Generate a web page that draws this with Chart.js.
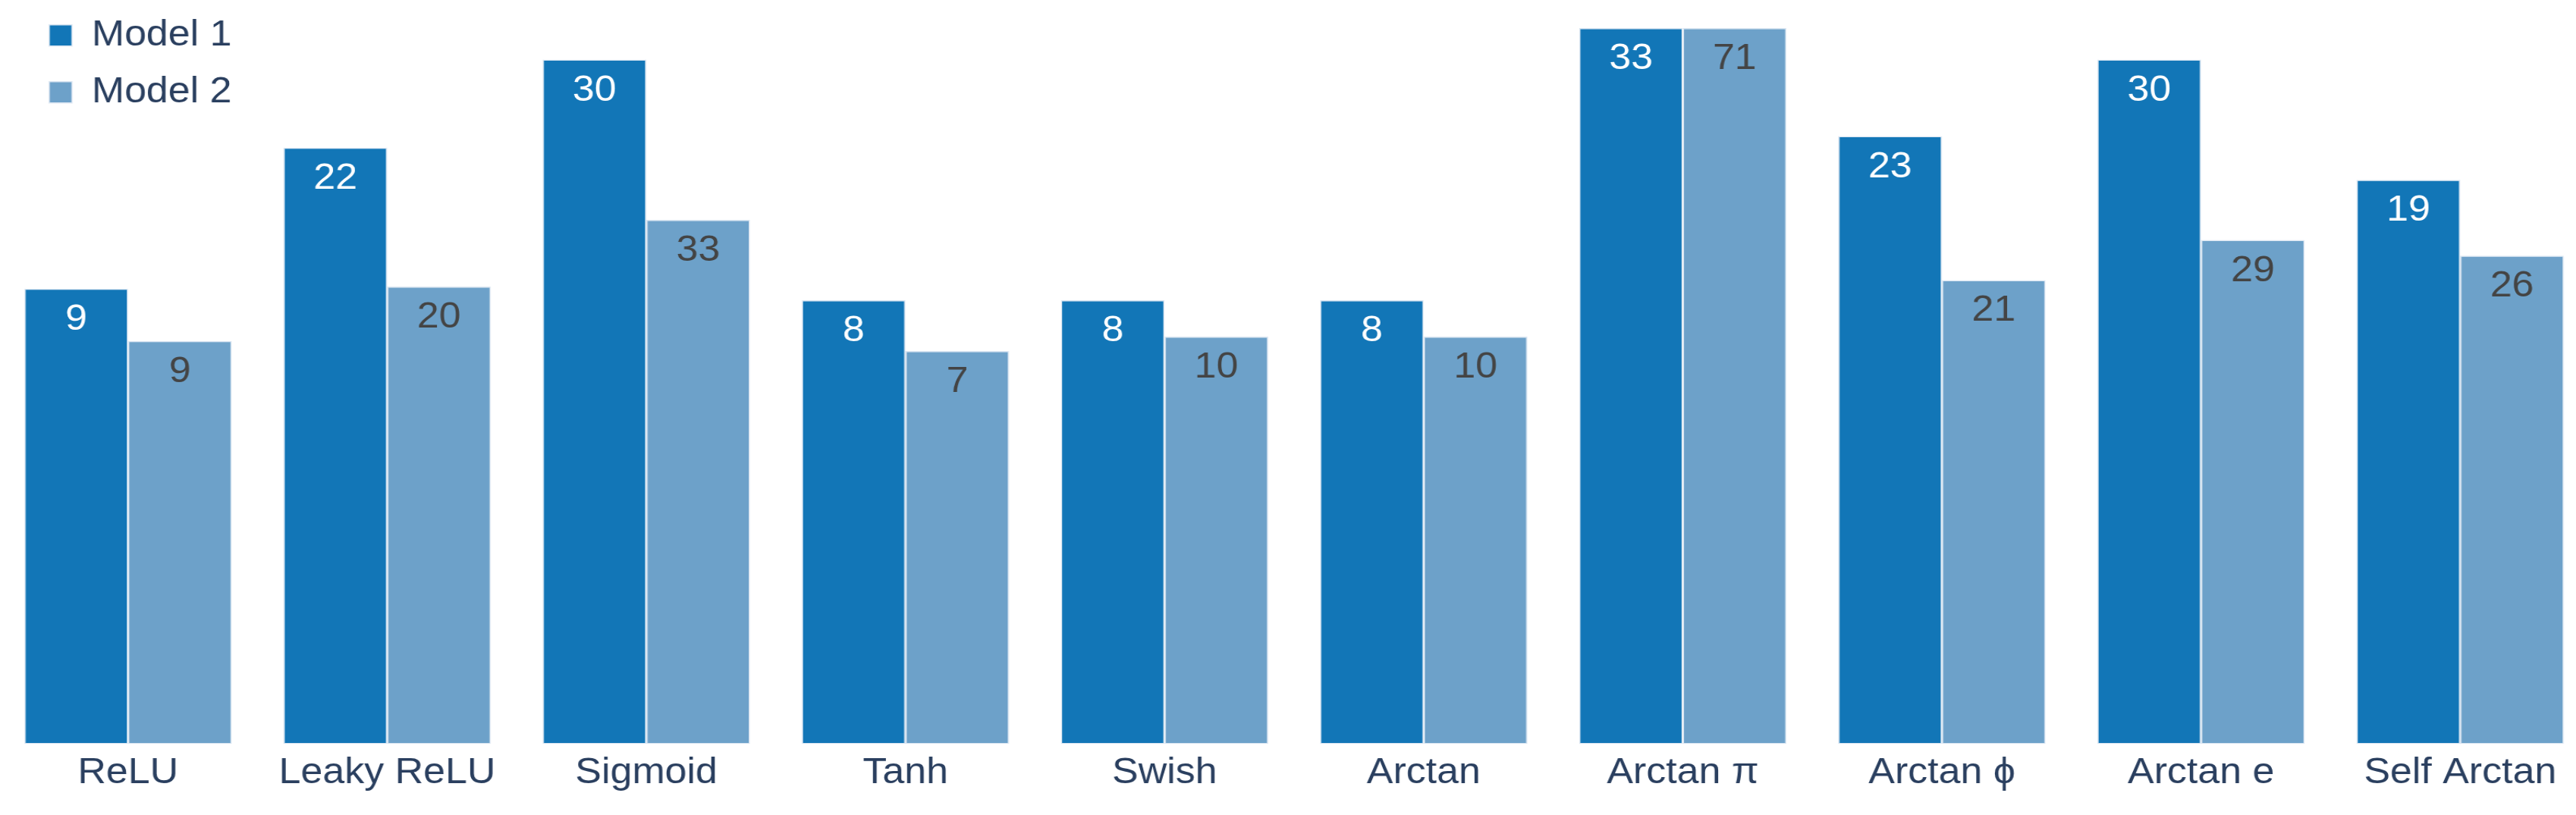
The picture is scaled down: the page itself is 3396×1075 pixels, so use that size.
<!DOCTYPE html>
<html>
<head>
<meta charset="utf-8">
<title>Model 1 vs Model 2</title>
<script src="https://cdn.jsdelivr.net/npm/chart.js@4.4.1/dist/chart.umd.min.js"></script>
<style>
  html, body { margin: 0; padding: 0; background: #fff; overflow: hidden; }
  body { width: 3396px; height: 1075px; position: relative; }
  /* o original parece esticado na horizontal: desenha estreito e estica */
  #wrap { position: absolute; left: -2.5px; top: -4px; width: 3191.6px; height: 1079px;
          transform: scaleX(1.07); transform-origin: 0 0; }
</style>
</head>
<body>
<div id="wrap"><canvas id="grafico"></canvas></div>
<script>
// Dados
const categorias = ["ReLU", "Leaky ReLU", "Sigmoid", "Tanh", "Swish", "Arctan", "Arctan π", "Arctan ϕ", "Arctan e", "Self Arctan"];

// altura relativa das barras (a mais alta = 1)
const alturaModelo1 = [0.636, 0.833, 0.956, 0.620, 0.620, 0.620, 1.000, 0.849, 0.956, 0.788];
const alturaModelo2 = [0.563, 0.639, 0.732, 0.549, 0.569, 0.569, 1.000, 0.648, 0.704, 0.682];

// números escritos dentro das barras
const rotuloModelo1 = ["9", "22", "30", "8", "8", "8", "33", "23", "30", "19"];
const rotuloModelo2 = ["9", "20", "33", "7", "10", "10", "71", "21", "29", "26"];

const fonte = "'Liberation Sans', Arial, sans-serif";
const corTexto = "#2a3f5f";

// escreve o rótulo de cada barra logo abaixo do topo
const rotulosBarras = {
  id: "rotulosBarras",
  afterDatasetsDraw(chart) {
    const ctx = chart.ctx;
    ctx.save();
    ctx.font = "48.5px " + fonte;
    ctx.textAlign = "center";
    ctx.textBaseline = "alphabetic";
    chart.data.datasets.forEach((ds, i) => {
      const meta = chart.getDatasetMeta(i);
      meta.data.forEach((barra, j) => {
        ctx.fillStyle = ds.corRotulo;
        ctx.fillText(ds.rotulos[j], barra.x, barra.y + 54);
      });
    });
    ctx.restore();
  }
};

// empurra a legenda para dentro do gráfico, como no original
const legendaPosicao = {
  id: "legendaPosicao",
  afterLayout(chart) {
    if (chart.legend) {
      chart.legend.left = chart.chartArea.left + 36;
      chart.legend.top = chart.chartArea.top;
    }
  }
};

const ctx = document.getElementById("grafico").getContext("2d");

new Chart(ctx, {
  type: "bar",
  data: {
    labels: categorias,
    datasets: [
      {
        label: "Model 1",
        data: alturaModelo1,
        rotulos: rotuloModelo1,
        corRotulo: "#ffffff",
        backgroundColor: "#1276b7",
        borderColor: "#dbe6f2",
        borderWidth: 1.5,
        borderSkipped: false
      },
      {
        label: "Model 2",
        data: alturaModelo2,
        rotulos: rotuloModelo2,
        corRotulo: "#444444",
        backgroundColor: "#6da1c9",
        borderColor: "#dbe6f2",
        borderWidth: 1.5,
        borderSkipped: false
      }
    ]
  },
  options: {
    responsive: true,
    maintainAspectRatio: false,
    animation: false,
    layout: { padding: 0 },
    datasets: {
      bar: { categoryPercentage: 0.8, barPercentage: 1.0 }
    },
    scales: {
      x: {
        grid: { display: false, drawTicks: false },
        border: { display: false },
        ticks: {
          padding: 9,
          color: corTexto,
          font: { family: fonte, size: 48.5 }
        },
        afterFit(scale) { scale.height = 93.5; }
      },
      y: {
        display: false,
        min: 0,
        max: 1.0434
      }
    },
    plugins: {
      legend: {
        position: "chartArea",
        align: "start",
        labels: {
          color: corTexto,
          font: { family: fonte, size: 48.5 },
          boxWidth: 28,
          boxHeight: 28,
          padding: 26.5
        }
      },
      tooltip: { enabled: false }
    }
  },
  plugins: [rotulosBarras, legendaPosicao]
});
</script>
</body>
</html>
